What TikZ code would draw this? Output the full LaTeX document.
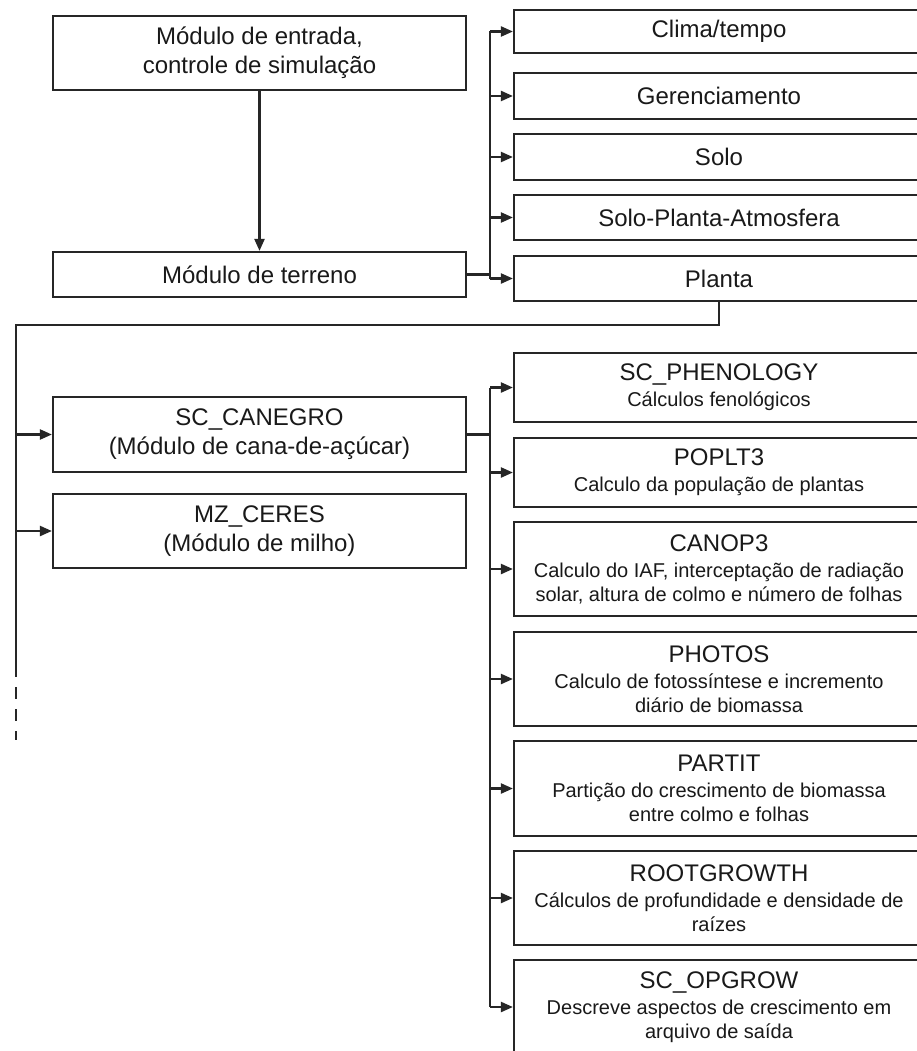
\documentclass[tikz,border=0pt]{standalone}
\usepackage{fontspec}
\setmainfont{Liberation Sans}
\usetikzlibrary{arrows.meta}
\definecolor{ln}{HTML}{262626}
\newcommand{\mysub}{\fontsize{20}{24}\selectfont}
\newcommand{\mytitle}{\fontsize{24}{24}\selectfont}
\begin{document}
\begin{tikzpicture}[x=1pt,y=-1pt,
  box/.style={draw=ln, line width=2.2pt, fill=white, inner sep=0pt, align=center, text=black!90, font=\fontsize{24}{29}\selectfont},
  lbox/.style={box, minimum width=413pt},
  rbox/.style={box, minimum width=410pt},
  mbox/.style={rbox, font=\mysub},
  conn/.style={draw=ln, line width=2.2pt},
  arr/.style={conn, -{Triangle[length=12pt,width=10pt]}},
]
\fill[white] (0,0) rectangle (917,1051);
\useasboundingbox (0,0) rectangle (917,1051);

% left column
\node[lbox, minimum height=74pt] (entrada) at (259.5,53) {Módulo de entrada,\\controle de simulação};
\node[lbox, minimum height=45pt] (terreno) at (259.5,274.5) {Módulo de terreno};
\node[lbox, minimum height=75pt] (canegro) at (259.5,434.5) {SC\_CANEGRO\\(Módulo de cana-de-açúcar)};
\node[lbox, minimum height=74pt] (ceres) at (259.5,531) {MZ\_CERES\\(Módulo de milho)};

% right column, top group
\node[rbox, minimum height=43pt] (clima) at (719,31.5) {Clima/tempo};
\node[rbox, minimum height=46pt] (geren) at (719,96) {Gerenciamento};
\node[rbox, minimum height=46pt] (solo) at (719,157) {Solo};
\node[rbox, minimum height=45pt] (spa) at (719,217.5) {Solo-Planta-Atmosfera};
\node[rbox, minimum height=45pt] (planta) at (719,278.5) {Planta};

% right column, lower group
\node[mbox, minimum height=69pt] (phen) at (719,387.5) {\mytitle SC\_PHENOLOGY\\[2pt]Cálculos fenológicos};
\node[mbox, minimum height=69pt] (poplt) at (719,472.5) {\mytitle POPLT3\\[2pt]Calculo da população de plantas};
\node[mbox, minimum height=94pt] (canop) at (719,569) {\mytitle CANOP3\\[2pt]Calculo do IAF, interceptação de radiação\\solar, altura de colmo e número de folhas};
\node[mbox, minimum height=94pt] (photos) at (719,679) {\mytitle PHOTOS\\[2pt]Calculo de fotossíntese e incremento\\diário de biomassa};
\node[mbox, minimum height=95pt] (partit) at (719,788.5) {\mytitle PARTIT\\[2pt]Partição do crescimento de biomassa\\entre colmo e folhas};
\node[mbox, minimum height=94pt] (root) at (719,898) {\mytitle ROOTGROWTH\\[2pt]Cálculos de profundidade e densidade de\\raízes};
\node[mbox, minimum height=94pt] (opgrow) at (719,1007) {\mytitle SC\_OPGROW\\[2pt]Descreve aspectos de crescimento em\\arquivo de saída};

% entrada -> terreno
\draw[arr] (entrada.south) -- (terreno.north);

% top bus
\coordinate (b1) at (490,0);
\draw[conn] (terreno.east) -- (terreno.east -| b1);
\draw[conn] (b1 |- clima.west) -- (b1 |- planta.west);
\foreach \n in {clima,geren,solo,spa,planta}
  \draw[arr] (b1 |- \n.west) -- (\n.west);

% planta -> left bus
\coordinate (bl1) at (16,325);
\coordinate (bl2) at (16,665);
\coordinate (bl3) at (16,740);
\draw[conn] (planta.south) -- (planta.south |- bl1) -- (bl1) -- (bl2);
\draw[conn, dash pattern=on 12pt off 10pt] (bl2) -- (bl3);
\draw[arr] (bl1 |- canegro.west) -- (canegro.west);
\draw[arr] (bl1 |- ceres.west) -- (ceres.west);

% lower bus
\coordinate (b2) at (490,0);
\draw[conn] (canegro.east) -- (canegro.east -| b2);
\draw[conn] (b2 |- phen.west) -- (b2 |- opgrow.west);
\foreach \n in {phen,poplt,canop,photos,partit,root,opgrow}
  \draw[arr] (b2 |- \n.west) -- (\n.west);
\end{tikzpicture}
\end{document}
